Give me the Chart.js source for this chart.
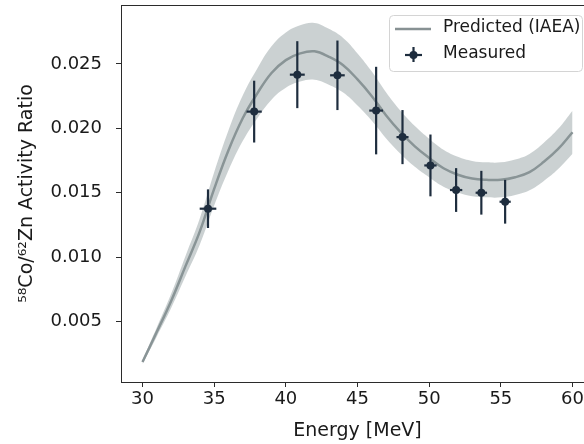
<!DOCTYPE html>
<html><head><meta charset="utf-8">
<script src="https://cdn.jsdelivr.net/npm/chart.js@4"></script>
<style>
html,body{margin:0;padding:0;overflow:hidden;background:#fff;width:584px;height:444px}
#wrap{width:600px;height:444px;position:relative}
</style></head><body><div id="wrap"><canvas id="c" width="600" height="444"></canvas></div>
<script>
// Predicted (IAEA) curve, sampled every 1 MeV
const energyGrid = [30,31,32,33,34,35,36,37,38,39,40,41,42,43,44,45,46,47,48,49,50,51,52,53,54,55,56,57,58,59,60];
const predicted = [0.00185,0.0042,0.0066,0.0093,0.0120,0.0153,0.0183,0.0208,0.0227,0.0243,0.0253,0.02582,0.02598,0.02556,0.0249,0.0238,0.0225,0.0210,0.0197,0.0186,0.0177,0.0169,0.0164,0.0161,0.0160,0.0160,0.0162,0.0166,0.0174,0.0184,0.0197];
const predictedUpper = [0.00201,0.00456,0.00716,0.01009,0.01302,0.0166,0.01986,0.02257,0.02463,0.02637,0.02745,0.02801,0.02819,0.02773,0.02702,0.02582,0.02441,0.02279,0.02137,0.02018,0.01920,0.01834,0.01779,0.01747,0.01736,0.01736,0.01758,0.01801,0.01888,0.01996,0.02137];
const predictedLower = [0.00169,0.00384,0.00604,0.00851,0.01098,0.0140,0.01674,0.01903,0.02077,0.02223,0.02315,0.02363,0.02377,0.02339,0.02278,0.02178,0.02059,0.01922,0.01803,0.01702,0.01620,0.01546,0.01501,0.01473,0.01464,0.01464,0.01482,0.01519,0.01592,0.01684,0.01803];
// Measured
const measuredEnergy = [34.57,37.79,40.80,43.60,46.30,48.14,50.09,51.88,53.64,55.30];
const measuredRatio = [0.01376,0.02130,0.02417,0.02412,0.02138,0.01932,0.01712,0.01521,0.01500,0.01430];
const measuredRatioErr = [0.0015,0.0024,0.0026,0.0027,0.0034,0.0021,0.0024,0.0017,0.0017,0.0017];
const measuredEnergyErr = [0.58,0.53,0.52,0.51,0.48,0.42,0.43,0.43,0.40,0.39];
// Axes
const xTicks = [30,35,40,45,50,55,60];
const yTicks = [0.005,0.010,0.015,0.020,0.025];
const xTitle = 'Energy [MeV]';
const yTitle = '\u2075\u2078Co/\u2076\u00B2Zn Activity Ratio';

const FONT = "'DejaVu Sans'";
const TXT = '#1a1a1a';
const SPINE = '#2b2b2b';
const LINE_COL = '#879193';
const BAND_COL = 'rgba(139,152,156,0.45)';
const PT_COL = '#1e2d3e';

const pts = (xs, ys) => xs.map((x,i)=>({x:x, y:ys[i]}));

const errorBars = {
  id:'errorBars',
  afterDatasetsDraw(chart){
    const ctx = chart.ctx, xs = chart.scales.x, ys = chart.scales.y;
    ctx.save();
    ctx.strokeStyle = PT_COL; ctx.lineWidth = 2.2;
    measuredEnergy.forEach((e,i)=>{
      const px = xs.getPixelForValue(e), py = ys.getPixelForValue(measuredRatio[i]);
      const y1 = ys.getPixelForValue(measuredRatio[i]+measuredRatioErr[i]);
      const y2 = ys.getPixelForValue(measuredRatio[i]-measuredRatioErr[i]);
      const x1 = xs.getPixelForValue(e-measuredEnergyErr[i]);
      const x2 = xs.getPixelForValue(e+measuredEnergyErr[i]);
      ctx.beginPath(); ctx.moveTo(px,y1); ctx.lineTo(px,y2); ctx.stroke();
      ctx.beginPath(); ctx.moveTo(x1,py); ctx.lineTo(x2,py); ctx.stroke();
      ctx.beginPath(); ctx.arc(px,py,4,0,Math.PI*2); ctx.fillStyle = PT_COL; ctx.fill();
    });
    ctx.restore();
  }
};

const frameAndLegend = {
  id:'frameAndLegend',
  afterDraw(chart){
    const ctx = chart.ctx, a = chart.chartArea;
    ctx.save();
    ctx.strokeStyle = SPINE; ctx.lineWidth = 1;
    ctx.beginPath(); ctx.moveTo(a.left, a.top+0.5); ctx.lineTo(a.right, a.top+0.5); ctx.stroke();
    ctx.beginPath(); ctx.moveTo(a.right-0.5, a.top); ctx.lineTo(a.right-0.5, a.bottom); ctx.stroke();
    // legend box
    const bx = 389.5, by = 15.5, bw = 193, bh = 56, r = 4;
    ctx.beginPath();
    ctx.moveTo(bx+r,by); ctx.lineTo(bx+bw-r,by); ctx.quadraticCurveTo(bx+bw,by,bx+bw,by+r);
    ctx.lineTo(bx+bw,by+bh-r); ctx.quadraticCurveTo(bx+bw,by+bh,bx+bw-r,by+bh);
    ctx.lineTo(bx+r,by+bh); ctx.quadraticCurveTo(bx,by+bh,bx,by+bh-r);
    ctx.lineTo(bx,by+r); ctx.quadraticCurveTo(bx,by,bx+r,by); ctx.closePath();
    ctx.fillStyle = 'rgba(255,255,255,0.85)'; ctx.fill();
    ctx.strokeStyle = '#d4d4d4'; ctx.lineWidth = 1; ctx.stroke();
    ctx.strokeStyle = LINE_COL; ctx.lineWidth = 2.5;
    ctx.beginPath(); ctx.moveTo(395,29); ctx.lineTo(431,29); ctx.stroke();
    ctx.strokeStyle = PT_COL; ctx.lineWidth = 2.2;
    ctx.beginPath(); ctx.moveTo(405,55); ctx.lineTo(422,55); ctx.stroke();
    ctx.beginPath(); ctx.moveTo(413.5,47); ctx.lineTo(413.5,62); ctx.stroke();
    ctx.beginPath(); ctx.arc(413.5,55,4,0,Math.PI*2); ctx.fillStyle = PT_COL; ctx.fill();
    ctx.fillStyle = TXT; ctx.font = "17px " + FONT; ctx.textBaseline = 'middle'; ctx.textAlign='left';
    ctx.fillText(chart.data.datasets[2].label, 443, 28);
    ctx.fillText(chart.data.datasets[3].label, 443, 54);
    ctx.restore();
  }
};

new Chart(document.getElementById('c'), {
  type:'scatter',
  data:{datasets:[
    {label:'upper', data:pts(energyGrid,predictedUpper), showLine:true, borderWidth:0, pointRadius:0, fill:'+1', backgroundColor:BAND_COL, borderColor:'rgba(0,0,0,0)', tension:0.4},
    {label:'lower', data:pts(energyGrid,predictedLower), showLine:true, borderWidth:0, pointRadius:0, fill:false, borderColor:'rgba(0,0,0,0)', tension:0.4},
    {label:'Predicted (IAEA)', data:pts(energyGrid,predicted), showLine:true, borderWidth:2.5, pointRadius:0, fill:false, borderColor:LINE_COL, tension:0.4},
    {label:'Measured', data:pts(measuredEnergy,measuredRatio), showLine:false, pointRadius:0, backgroundColor:PT_COL, borderColor:PT_COL}
  ]},
  options:{
    responsive:false, animation:false, devicePixelRatio:1,
    layout:{padding:{top:5,right:6,left:0,bottom:0}},
    plugins:{legend:{display:false}, tooltip:{enabled:false}},
    scales:{
      x:{type:'linear', min:28.5, max:61.5,
        afterBuildTicks:s=>{s.ticks = xTicks.map(v=>({value:v}));},
        afterFit:s=>{s.height = 62; s.paddingLeft = 0; s.paddingRight = 0; s.paddingTop = 0; s.paddingBottom = 0;},
        grid:{display:true, drawOnChartArea:false, drawTicks:true, tickLength:5, color:SPINE},
        border:{display:true, color:SPINE, width:1},
        ticks:{color:TXT, font:{family:FONT, size:18}, padding:2, maxRotation:0, callback:v=>String(v)},
        title:{display:true, text:xTitle, color:TXT, font:{family:FONT, size:19}, padding:{top:0,bottom:2}}
      },
      y:{type:'linear', min:0.0003, max:0.02958,
        afterBuildTicks:s=>{s.ticks = yTicks.map(v=>({value:v}));},
        afterFit:s=>{s.width = 121; s.paddingLeft = 0; s.paddingRight = 0; s.paddingTop = 0; s.paddingBottom = 0;},
        grid:{display:true, drawOnChartArea:false, drawTicks:true, tickLength:5, color:SPINE},
        border:{display:true, color:SPINE, width:1},
        ticks:{color:TXT, font:{family:FONT, size:18}, padding:14, callback:v=>v.toFixed(3)},
        title:{display:true, text:yTitle, color:TXT, font:{family:FONT, size:19}, padding:{top:16,bottom:0}}
      }
    }
  },
  plugins:[errorBars, frameAndLegend]
});
</script></body></html>
